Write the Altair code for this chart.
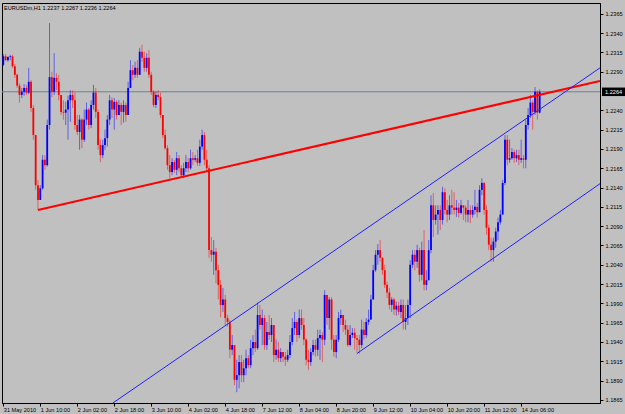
import json
import altair as alt
import pandas as pd

symbol_header = "EURUSDm,H1  1.2237 1.2267 1.2236 1.2264"

time_labels = ["31 May 2010", "1 Jun 10:00", "2 Jun 02:00", "2 Jun 18:00", "3 Jun 10:00",
               "4 Jun 02:00", "4 Jun 18:00", "7 Jun 12:00", "8 Jun 04:00", "8 Jun 20:00",
               "9 Jun 12:00", "10 Jun 04:00", "10 Jun 20:00", "11 Jun 12:00", "14 Jun 06:00"]
time_tick_bars = [0, 16, 32, 48, 64, 80, 96, 112, 128, 144, 160, 176, 192, 208, 224]

price_ticks = [1.1865, 1.1890, 1.1915, 1.1940, 1.1965, 1.1990, 1.2015, 1.2040, 1.2065,
               1.2090, 1.2115, 1.2140, 1.2165, 1.2190, 1.2215, 1.2240, 1.2290, 1.2315,
               1.2340, 1.2365]
current_price = 1.2264

first_open = 1.2299
close = [
    1.2310, 1.2305, 1.2309, 1.2310, 1.2297, 1.2286, 1.2272, 1.2260, 1.2264, 1.2269,
    1.2263, 1.2277, 1.2243, 1.2208, 1.2143, 1.2124, 1.2139, 1.2176, 1.2169, 1.2221,
    1.2283, 1.2264, 1.2282, 1.2277, 1.2260, 1.2238, 1.2237, 1.2241, 1.2253, 1.2260,
    1.2253, 1.2221, 1.2212, 1.2228, 1.2202, 1.2228, 1.2241, 1.2221, 1.2247, 1.2263,
    1.2238, 1.2195, 1.2182, 1.2195, 1.2204, 1.2228, 1.2253, 1.2241, 1.2251, 1.2234,
    1.2247, 1.2238, 1.2247, 1.2234, 1.2269, 1.2292, 1.2286, 1.2295, 1.2286, 1.2316,
    1.2308, 1.2295, 1.2308, 1.2286, 1.2264, 1.2247, 1.2260, 1.2257, 1.2234, 1.2208,
    1.2191, 1.2169, 1.2160, 1.2173, 1.2163, 1.2178, 1.2165, 1.2156, 1.2165, 1.2173,
    1.2165, 1.2178, 1.2176, 1.2178, 1.2172, 1.2193, 1.2208, 1.2176, 1.2165, 1.2059,
    1.2053, 1.2057, 1.2033, 1.2014, 1.1988, 1.1995, 1.1971, 1.1966, 1.1930, 1.1936,
    1.1891, 1.1897, 1.1914, 1.1897, 1.1906, 1.1919, 1.1910, 1.1932, 1.1940, 1.1932,
    1.1975, 1.1962, 1.1971, 1.1936, 1.1953, 1.1949, 1.1962, 1.1923, 1.1930, 1.1919,
    1.1927, 1.1921, 1.1917, 1.1923, 1.1940, 1.1958, 1.1966, 1.1949, 1.1971, 1.1962,
    1.1943, 1.1917, 1.1914, 1.1927, 1.1936, 1.1930, 1.1945, 1.1949, 1.1943, 1.2001,
    1.1971, 1.1995, 1.1943, 1.1927, 1.1943, 1.1971, 1.1975, 1.1962, 1.1956, 1.1936,
    1.1949, 1.1952, 1.1945, 1.1943, 1.1936, 1.1956, 1.1949, 1.1966, 1.1969, 1.1995,
    1.2033, 1.2053, 1.2059, 1.2049, 1.2033, 1.2014, 1.2004, 1.1988, 1.1995, 1.1982,
    1.1987, 1.1979, 1.1988, 1.1966, 1.1971, 1.1988, 1.2040, 1.2053, 1.2044, 1.2059,
    1.2027, 1.2059, 1.2014, 1.2020, 1.2059, 1.2117, 1.2098, 1.2105, 1.2111, 1.2098,
    1.2134, 1.2111, 1.2105, 1.2117, 1.2114, 1.2111, 1.2114, 1.2107, 1.2117, 1.2114,
    1.2105, 1.2111, 1.2105, 1.2111, 1.2115, 1.2108, 1.2137, 1.2146, 1.2111, 1.2088,
    1.2066, 1.2059, 1.2070, 1.2083, 1.2095, 1.2105, 1.2146, 1.2202, 1.2176, 1.2178,
    1.2186, 1.2178, 1.2182, 1.2176, 1.2178, 1.2176, 1.2221, 1.2234, 1.2250, 1.2238,
    1.2264, 1.2237, 1.2264]
high = [
    1.2313, 1.2313, 1.2310, 1.2312, 1.2312, 1.2300, 1.2288, 1.2275, 1.2269, 1.2274,
    1.2273, 1.2295, 1.2279, 1.2247, 1.2208, 1.2150, 1.2143, 1.2182, 1.2182, 1.2228,
    1.2353, 1.2290, 1.2314, 1.2288, 1.2286, 1.2260, 1.2253, 1.2251, 1.2259, 1.2266,
    1.2266, 1.2263, 1.2234, 1.2234, 1.2230, 1.2241, 1.2250, 1.2243, 1.2253, 1.2273,
    1.2269, 1.2241, 1.2202, 1.2202, 1.2215, 1.2234, 1.2260, 1.2257, 1.2256, 1.2253,
    1.2253, 1.2250, 1.2253, 1.2250, 1.2277, 1.2305, 1.2299, 1.2303, 1.2305, 1.2321,
    1.2325, 1.2316, 1.2314, 1.2318, 1.2290, 1.2266, 1.2264, 1.2266, 1.2263, 1.2234,
    1.2215, 1.2195, 1.2182, 1.2178, 1.2176, 1.2186, 1.2182, 1.2169, 1.2172, 1.2182,
    1.2178, 1.2189, 1.2186, 1.2182, 1.2189, 1.2202, 1.2215, 1.2212, 1.2189, 1.2169,
    1.2076, 1.2072, 1.2062, 1.2040, 1.2020, 1.2010, 1.2001, 1.1975, 1.1969, 1.1949,
    1.1936, 1.1917, 1.1923, 1.1923, 1.1917, 1.1930, 1.1923, 1.1943, 1.1949, 1.1956,
    1.1991, 1.1988, 1.1982, 1.1975, 1.1966, 1.1975, 1.1971, 1.1962, 1.1943, 1.1940,
    1.1932, 1.1927, 1.1927, 1.1930, 1.1949, 1.1971, 1.1979, 1.1969, 1.1982, 1.1982,
    1.1971, 1.1945, 1.1930, 1.1932, 1.1943, 1.1943, 1.1956, 1.1956, 1.1953, 1.2007,
    1.2001, 1.1998, 1.1998, 1.1949, 1.1949, 1.1979, 1.1982, 1.1975, 1.1969, 1.1962,
    1.1962, 1.1958, 1.1958, 1.1949, 1.1949, 1.1969, 1.1966, 1.1971, 1.1982, 1.2001,
    1.2040, 1.2059, 1.2067, 1.2072, 1.2050, 1.2040, 1.2018, 1.2010, 1.1998, 1.1997,
    1.1992, 1.1992, 1.1995, 1.1995, 1.1988, 1.1995, 1.2046, 1.2059, 1.2059, 1.2066,
    1.2062, 1.2070, 1.2085, 1.2033, 1.2072, 1.2130, 1.2133, 1.2117, 1.2117, 1.2117,
    1.2141, 1.2139, 1.2124, 1.2130, 1.2137, 1.2134, 1.2124, 1.2120, 1.2124, 1.2117,
    1.2117, 1.2124, 1.2117, 1.2117, 1.2137, 1.2120, 1.2143, 1.2152, 1.2147, 1.2117,
    1.2092, 1.2075, 1.2075, 1.2088, 1.2101, 1.2111, 1.2150, 1.2208, 1.2208, 1.2202,
    1.2191, 1.2189, 1.2189, 1.2189, 1.2202, 1.2182, 1.2228, 1.2243, 1.2260, 1.2253,
    1.2270, 1.2266, 1.2267]
low = [
    1.2297, 1.2304, 1.2303, 1.2305, 1.2295, 1.2282, 1.2269, 1.2250, 1.2256, 1.2259,
    1.2260, 1.2261, 1.2238, 1.2202, 1.2137, 1.2111, 1.2124, 1.2137, 1.2163, 1.2167,
    1.2215, 1.2257, 1.2260, 1.2266, 1.2253, 1.2234, 1.2228, 1.2221, 1.2202, 1.2225,
    1.2243, 1.2215, 1.2208, 1.2189, 1.2191, 1.2199, 1.2221, 1.2215, 1.2217, 1.2241,
    1.2230, 1.2189, 1.2173, 1.2178, 1.2189, 1.2193, 1.2221, 1.2230, 1.2215, 1.2228,
    1.2234, 1.2221, 1.2224, 1.2225, 1.2234, 1.2269, 1.2279, 1.2282, 1.2282, 1.2286,
    1.2303, 1.2290, 1.2290, 1.2282, 1.2260, 1.2244, 1.2243, 1.2253, 1.2230, 1.2204,
    1.2189, 1.2163, 1.2152, 1.2156, 1.2159, 1.2156, 1.2160, 1.2152, 1.2152, 1.2160,
    1.2160, 1.2163, 1.2169, 1.2173, 1.2168, 1.2168, 1.2189, 1.2169, 1.2160, 1.2049,
    1.2044, 1.2027, 1.2016, 1.1995, 1.1972, 1.1979, 1.1962, 1.1960, 1.1919, 1.1923,
    1.1884, 1.1875, 1.1880, 1.1888, 1.1888, 1.1897, 1.1906, 1.1906, 1.1923, 1.1927,
    1.1930, 1.1956, 1.1936, 1.1930, 1.1930, 1.1943, 1.1940, 1.1914, 1.1917, 1.1914,
    1.1914, 1.1914, 1.1909, 1.1914, 1.1919, 1.1936, 1.1949, 1.1940, 1.1945, 1.1956,
    1.1936, 1.1910, 1.1904, 1.1909, 1.1923, 1.1921, 1.1922, 1.1917, 1.1914, 1.1936,
    1.1962, 1.1956, 1.1930, 1.1921, 1.1919, 1.1940, 1.1962, 1.1953, 1.1949, 1.1934,
    1.1934, 1.1945, 1.1930, 1.1926, 1.1925, 1.1932, 1.1943, 1.1945, 1.1962, 1.1969,
    1.1995, 1.2031, 1.2040, 1.2044, 1.2027, 1.2010, 1.1997, 1.1982, 1.1979, 1.1975,
    1.1974, 1.1975, 1.1971, 1.1956, 1.1956, 1.1962, 1.1971, 1.2036, 1.2033, 1.2036,
    1.2018, 1.2020, 1.2007, 1.2007, 1.2020, 1.2055, 1.2076, 1.2092, 1.2079, 1.2085,
    1.2092, 1.2105, 1.2095, 1.2098, 1.2105, 1.2105, 1.2102, 1.2101, 1.2105, 1.2098,
    1.2095, 1.2095, 1.2094, 1.2101, 1.2105, 1.2101, 1.2108, 1.2130, 1.2105, 1.2079,
    1.2059, 1.2044, 1.2044, 1.2062, 1.2072, 1.2092, 1.2105, 1.2143, 1.2169, 1.2172,
    1.2176, 1.2172, 1.2173, 1.2169, 1.2172, 1.2165, 1.2165, 1.2215, 1.2230, 1.2215,
    1.2234, 1.2228, 1.2236]

# hand-drawn analyst lines (bar index, price) at both ends
trend_bar = [15, 258.1]
trend_price = [1.2111, 1.2278]
chan_up_bar = [47.4, 258.1]
chan_up_price = [1.1861, 1.2295]
chan_lo_bar = [152.95, 258.1]
chan_lo_price = [1.1925, 1.2145]

# ---------------------------------------------------------------
opens = [first_open] + close[:-1]
bars = pd.DataFrame({"i": list(range(len(close))), "o": opens, "h": high, "l": low, "c": close})
bars["dir"] = ["up" if c > o else ("down" if c < o else "flat") for o, c in zip(bars.o, bars.c)]

FONT = "Liberation Sans"
FS = 5.6
W, H = 598, 400

xs = alt.Scale(domain=[-0.56, 258.1], nice=False, zero=False)
ys = alt.Scale(domain=[1.1861, 1.2379], nice=False, zero=False)
col = alt.Color("dir:N", scale=alt.Scale(domain=["up", "down", "flat"],
                                         range=["#0000ff", "#ff0000", "#00c800"]), legend=None)

label_expr = json.dumps(time_labels) + "[indexof(" + json.dumps(time_tick_bars) + ", datum.value)]"

x_axis = alt.Axis(values=time_tick_bars, labelExpr=label_expr, labelAlign="left",
                  labelFont=FONT, labelFontSize=FS, labelColor="black", labelPadding=1,
                  tickSize=3, tickColor="black", domainColor="black", grid=False,
                  title=None, labelOverlap=False, labelFlush=False, labelBound=False)
y_axis = alt.Axis(orient="right", values=price_ticks, format=".4f", labelFont=FONT,
                  labelFontSize=FS, labelColor="black", labelPadding=2, tickSize=3,
                  tickColor="black", domainColor="black", grid=False, title=None,
                  labelOverlap=False, labelFlush=False, labelBound=False)


def X(field):
    return alt.X(field, scale=xs, axis=x_axis)


def Y(field):
    return alt.Y(field, scale=ys, axis=y_axis)


base = alt.Chart(bars)
wicks = base.mark_rule(strokeWidth=1, opacity=0.5).encode(
    x=X("i:Q"), y=Y("l:Q"), y2="h:Q", color=col)
bodies = base.mark_rule(strokeWidth=1.8).encode(
    x=X("i:Q"), y=Y("o:Q"), y2="c:Q", color=col)

cur_df = pd.DataFrame({"p": [current_price]})
cur_line = alt.Chart(cur_df).mark_rule(color="#6f7f90", strokeWidth=1).encode(y=Y("p:Q"))

lines_df = pd.DataFrame({
    "name": ["trend"] * 2 + ["up"] * 2 + ["lo"] * 2,
    "x": trend_bar + chan_up_bar + chan_lo_bar,
    "p": trend_price + chan_up_price + chan_lo_price,
})
red_line = alt.Chart(lines_df).transform_filter("datum.name == 'trend'").mark_line(
    color="#ff0000", strokeWidth=2, clip=True).encode(x=X("x:Q"), y=Y("p:Q"))
blue_lines = alt.Chart(lines_df).transform_filter("datum.name != 'trend'").mark_line(
    color="#2020ff", strokeWidth=1, clip=True).encode(x=X("x:Q"), y=Y("p:Q"), detail="name:N")

tag_box = alt.Chart(cur_df).transform_calculate(
    lo="datum.p - 0.00055", hi="datum.p + 0.00055").mark_rect(color="black").encode(
    x=alt.value(W + 2), x2=alt.value(W + 25), y=Y("lo:Q"), y2="hi:Q")
tag_text = alt.Chart(cur_df).mark_text(align="left", baseline="middle", color="white",
                                       font=FONT, fontSize=FS).encode(
    x=alt.value(W + 5), y=Y("p:Q"), text=alt.Text("p:Q", format=".4f"))

header = alt.Chart(pd.DataFrame({"t": [symbol_header]})).mark_text(
    align="left", baseline="middle", font=FONT, fontSize=FS, color="black").encode(
    x=alt.value(2), y=alt.value(5), text="t:N")

chart = alt.layer(cur_line, wicks, bodies, red_line, blue_lines, tag_box, tag_text, header).properties(
    width=W, height=H,
    background="#c0c0c0",
    padding={"left": 2, "top": 3, "right": 25, "bottom": 11},
    autosize=alt.AutoSizeParams(type="none"),
).configure_view(stroke="black", strokeWidth=1, fill="#c0c0c0")

chart.save("out.html", embed_options={"renderer": "svg", "actions": False})
